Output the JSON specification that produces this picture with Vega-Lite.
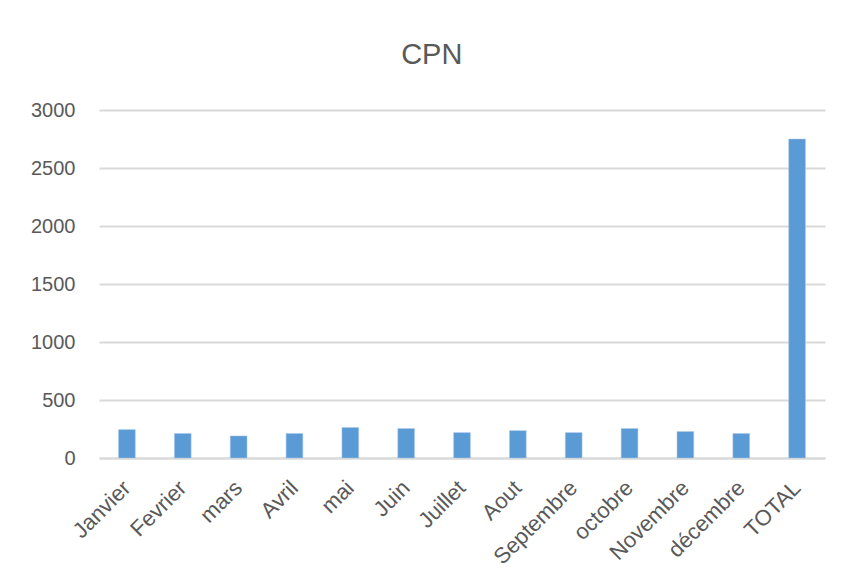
{
  "$schema": "https://vega.github.io/schema/vega-lite/v6.json",
  "autosize": "none",
  "width": 726,
  "height": 348,
  "padding": {"left": 99, "top": 110, "right": 18, "bottom": 125},
  "background": "white",
  "title": {
    "text": "CPN",
    "fontSize": 29,
    "font": "Liberation Sans",
    "fontWeight": "normal",
    "color": "#595959",
    "anchor": "middle",
    "frame": "bounds",
    "dx": 4,
    "offset": 30
  },
  "data": {
    "values": [
      {"mois": "Janvier", "CPN": 245},
      {"mois": "Fevrier", "CPN": 211},
      {"mois": "mars", "CPN": 190},
      {"mois": "Avril", "CPN": 211},
      {"mois": "mai", "CPN": 262},
      {"mois": "Juin", "CPN": 254},
      {"mois": "Juillet", "CPN": 219},
      {"mois": "Aout", "CPN": 236},
      {"mois": "Septembre", "CPN": 219},
      {"mois": "octobre", "CPN": 254},
      {"mois": "Novembre", "CPN": 228},
      {"mois": "décembre", "CPN": 211},
      {"mois": "TOTAL", "CPN": 2750}
    ]
  },
  "mark": {"type": "bar", "color": "#5b9bd5", "stroke": "#a9c9ea", "strokeWidth": 0.5},
  "encoding": {
    "x": {
      "field": "mois",
      "type": "nominal",
      "sort": null,
      "title": null,
      "scale": {"paddingInner": 0.7, "paddingOuter": 0.35},
      "axis": {
        "labelAngle": -45,
        "labelAlign": "right",
        "labelBaseline": "middle",
        "labelFont": "Liberation Sans",
        "labelFontSize": 22,
        "labelColor": "#595959",
        "labelPadding": 26,
        "ticks": false,
        "domainColor": "#d9d9d9",
        "domainWidth": 2,
        "grid": false
      }
    },
    "y": {
      "field": "CPN",
      "type": "quantitative",
      "title": null,
      "scale": {"domain": [0, 3000], "nice": false},
      "axis": {
        "values": [0, 500, 1000, 1500, 2000, 2500, 3000],
        "format": "d",
        "labelFont": "Liberation Sans",
        "labelFontSize": 20,
        "labelColor": "#595959",
        "labelPadding": 24,
        "ticks": false,
        "domain": false,
        "gridColor": "#d9d9d9",
        "gridWidth": 2
      }
    }
  },
  "config": {"view": {"stroke": null}}
}
